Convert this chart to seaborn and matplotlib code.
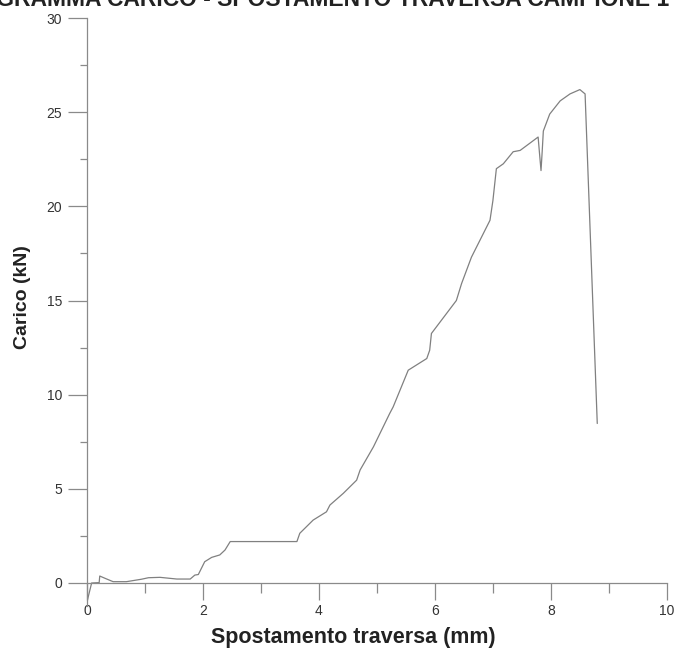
import pandas as pd
import matplotlib.pyplot as plt
import seaborn as sns
from matplotlib.ticker import MultipleLocator

# curva carico - spostamento
spostamento = [0.0, 0.08, 0.21, 0.22, 0.31, 0.45, 0.68, 0.94, 1.06, 1.26, 1.55,
               1.78, 1.86, 1.92, 2.03, 2.15, 2.29, 2.38, 2.47, 3.62, 3.67, 3.90,
               4.13, 4.19, 4.42, 4.65, 4.71, 4.94, 5.22, 5.28, 5.54, 5.86, 5.91,
               5.94, 6.37, 6.46, 6.63, 6.95, 7.00, 7.06, 7.18, 7.35, 7.47, 7.78,
               7.81, 7.83, 7.85, 7.87, 7.98, 8.16, 8.33, 8.50, 8.59, 8.80]
carico = [-1.0, 0.0, 0.02, 0.37, 0.25, 0.07, 0.07, 0.20, 0.28, 0.30, 0.21,
          0.21, 0.42, 0.45, 1.13, 1.36, 1.49, 1.75, 2.20, 2.20, 2.64, 3.34,
          3.78, 4.14, 4.76, 5.46, 6.00, 7.23, 9.00, 9.35, 11.30, 11.92, 12.36,
          13.25, 15.00, 15.90, 17.30, 19.26, 20.30, 22.00, 22.26, 22.90, 22.97, 23.68,
          22.60, 21.90, 22.90, 24.00, 24.90, 25.60, 25.97, 26.20, 25.97, 8.47]

titolo = "DIAGRAMMA CARICO - SPOSTAMENTO TRAVERSA CAMPIONE 1"

df = pd.DataFrame({"spostamento": spostamento, "carico": carico})

sns.set_style("white")
plt.rcParams['font.family'] = ['Liberation Sans', 'DejaVu Sans']

fig = plt.figure(figsize=(6.77, 6.53), dpi=100)
ax = fig.add_axes([0.1285, 0.0726, 0.8565, 0.8998])

sns.lineplot(data=df, x="spostamento", y="carico", sort=False, estimator=None,
             color="#808080", linewidth=0.9, ax=ax)

ax.set_xlim(0, 10)
ax.set_ylim(-1.2, 30)

# assi che si incrociano nell'origine
ax.spines['bottom'].set_position(('data', 0))
ax.spines['top'].set_visible(False)
ax.spines['right'].set_visible(False)
for s in ['left', 'bottom']:
    ax.spines[s].set_color("#8a8a8a")
    ax.spines[s].set_linewidth(0.9)

ax.xaxis.set_major_locator(MultipleLocator(2))
ax.xaxis.set_minor_locator(MultipleLocator(1))
ax.yaxis.set_major_locator(MultipleLocator(5))
ax.yaxis.set_minor_locator(MultipleLocator(2.5))
ax.tick_params(axis='x', which='major', direction='out', length=12, width=0.9,
               color="#8a8a8a", labelsize=10, labelcolor="#333333", pad=3, bottom=True)
ax.tick_params(axis='x', which='minor', direction='out', length=7, width=0.9,
               color="#8a8a8a", bottom=True)
ax.tick_params(axis='y', which='major', direction='out', length=14, width=0.9,
               color="#8a8a8a", labelsize=10, labelcolor="#333333", pad=4, left=True)
ax.tick_params(axis='y', which='minor', direction='out', length=5, width=0.9,
               color="#8a8a8a", left=True)

ax.set_xlabel("Spostamento traversa (mm)", fontsize=15.5, fontweight='bold',
              color="#222222")
ax.xaxis.set_label_coords(0.46, -0.036)
ax.set_ylabel("Carico (kN)", fontsize=14, fontweight='bold', color="#222222")
ax.yaxis.set_label_coords(-0.097, 0.525)

# titolo tagliato in alto come nell'originale
fig.text(0.462, 0.9905, titolo, ha='center', va='baseline', fontsize=16.5,
         fontweight='bold', color="#222222")

fig.savefig("out.png", dpi=100)
plt.close(fig)
